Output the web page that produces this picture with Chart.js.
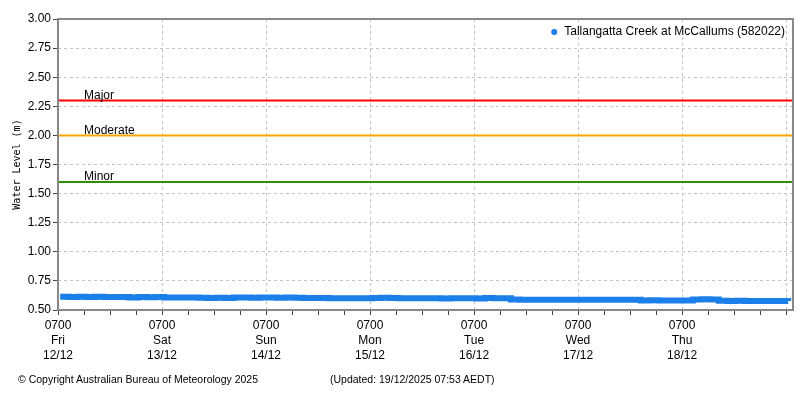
<!DOCTYPE html>
<html>
<head>
<meta charset="utf-8">
<script src="https://cdn.jsdelivr.net/npm/chart.js@4/dist/chart.umd.min.js"></script>
<style>
  body { margin: 0; background: #fff; }
  #wrap { position: relative; width: 800px; height: 400px; }
  .foot { position: absolute; top: 373px; font: 10.5px "Liberation Sans", sans-serif; color: #000; white-space: nowrap; }
</style>
</head>
<body>
<div id="wrap">
  <canvas id="levelChart" width="800" height="400"></canvas>
  <div class="foot" style="left:18px">© Copyright Australian Bureau of Meteorology 2025</div>
  <div class="foot" style="left:330px">(Updated: 19/12/2025 07:53 AEDT)</div>
</div>
<script>
// hours after 0700 Fri 12/12, one reading every 2 hours
var startHour = 0.5;
var stepHours = 2;
var levels = [
  0.613, 0.612, 0.613, 0.612, 0.613, 0.612, 0.612, 0.611, 0.608, 0.612, 0.609, 0.611,
  0.607, 0.608, 0.607, 0.607, 0.606, 0.604, 0.605, 0.604, 0.607, 0.607, 0.606, 0.607, 0.607, 0.606, 0.607, 0.606,
  0.604, 0.603, 0.604, 0.600, 0.601, 0.600, 0.601, 0.600, 0.604, 0.606, 0.603, 0.601, 0.602, 0.601,
  0.600, 0.600, 0.599, 0.600, 0.600, 0.600, 0.599, 0.603, 0.602, 0.600,
  0.590, 0.589, 0.588, 0.589, 0.588, 0.588, 0.589, 0.588, 0.589, 0.588, 0.588, 0.589, 0.588, 0.587, 0.588,
  0.582, 0.583, 0.582, 0.581, 0.582, 0.582,
  0.591, 0.592, 0.590,
  0.579, 0.578, 0.579, 0.578, 0.577, 0.578, 0.577, 0.578, 0.577
];
var dayNames = ['Fri', 'Sat', 'Sun', 'Mon', 'Tue', 'Wed', 'Thu'];
var dayDates = ['12/12', '13/12', '14/12', '15/12', '16/12', '17/12', '18/12'];
var floodNames = ['Major', 'Moderate', 'Minor'];
var floodLevels = [2.30, 2.00, 1.60];
var floodColors = ['#ff0000', '#ffa500', '#2f8f00'];
var seriesName = 'Tallangatta Creek at McCallums (582022)';
var xMax = 169.6;

var points = [];
for (var i = 0; i < levels.length; i++) {
  points.push({x: startHour + i * stepHours, y: levels[i]});
}

var datasets = [];
for (var j = 0; j < floodLevels.length; j++) {
  datasets.push({
    label: floodNames[j],
    data: [{x: 0, y: floodLevels[j]}, {x: xMax, y: floodLevels[j]}],
    borderColor: floodColors[j],
    borderWidth: 2,
    pointRadius: 0
  });
}
datasets.push({
  label: seriesName,
  data: points,
  borderColor: '#1a7fe8',
  backgroundColor: '#1a7fe8',
  borderWidth: 6,
  pointRadius: 0,
  stepped: true
});

var labelFont = '12px "Liberation Sans", sans-serif';

// frame, flood level names and the legend inside the plot
var extras = {
  id: 'extras',
  afterDatasetsDraw: function(chart) {
    var ctx = chart.ctx, a = chart.chartArea, ys = chart.scales.y;
    ctx.save();
    ctx.font = labelFont;
    ctx.fillStyle = '#000';
    ctx.textBaseline = 'bottom';
    ctx.textAlign = 'left';
    for (var k = 0; k < floodLevels.length; k++) {
      ctx.fillText(floodNames[k], a.left + 26, ys.getPixelForValue(floodLevels[k]) + 1);
    }
    ctx.strokeStyle = '#888';
    ctx.lineWidth = 2;
    ctx.strokeRect(a.left, a.top, a.right - a.left, a.bottom - a.top);
    ctx.textBaseline = 'middle';
    ctx.textAlign = 'right';
    ctx.fillText(seriesName, a.right - 8, a.top + 13);
    var w = ctx.measureText(seriesName).width;
    ctx.fillStyle = '#1a7fe8';
    ctx.beginPath();
    ctx.arc(a.right - 8 - w - 10, a.top + 13, 3, 0, Math.PI * 2);
    ctx.fill();
    ctx.restore();
  }
};

new Chart(document.getElementById('levelChart'), {
  type: 'line',
  data: { datasets: datasets },
  options: {
    responsive: false,
    animation: false,
    layout: { padding: { top: 19, right: 7, left: 0, bottom: 0 } },
    plugins: { legend: { display: false }, tooltip: { enabled: false } },
    scales: {
      x: {
        type: 'linear',
        min: 0,
        max: xMax,
        afterFit: function(s) { s.height = 90; },
        afterBuildTicks: function(s) {
          var t = [];
          for (var h = 0; h <= xMax; h += 6) t.push({value: h});
          s.ticks = t;
        },
        ticks: {
          autoSkip: false,
          maxRotation: 0,
          padding: 3,
          color: '#000',
          font: { family: '"Liberation Sans", sans-serif', size: 12, lineHeight: 1.25 },
          callback: function(v) {
            var d = v / 24;
            if (v % 24 !== 0 || d >= dayNames.length) return '';
            return ['0700', dayNames[d], dayDates[d]];
          }
        },
        grid: {
          color: function(c) { return c.tick && c.tick.value % 24 === 0 ? '#c4c4c4' : 'rgba(0,0,0,0)'; },
          tickColor: '#444',
          tickLength: 5,
          borderDash: [3, 3],
          tickBorderDash: []
        },
        border: { display: false, dash: [3, 3] }
      },
      y: {
        min: 0.5,
        max: 3.0,
        afterFit: function(s) { s.width = 58; },
        title: {
          display: true,
          text: 'Water Level (m)',
          color: '#000',
          font: { family: '"DejaVu Sans Mono", monospace', size: 10 },
          padding: { top: 11, bottom: 0 }
        },
        ticks: {
          stepSize: 0.25,
          color: '#000',
          padding: 2,
          font: { family: '"Liberation Sans", sans-serif', size: 12 },
          callback: function(v) { return v.toFixed(2); }
        },
        grid: {
          color: '#c4c4c4',
          tickColor: '#444',
          tickLength: 5,
          borderDash: [3, 3],
          tickBorderDash: []
        },
        border: { display: false, dash: [3, 3] }
      }
    }
  },
  plugins: [extras]
});
</script>
</body>
</html>
